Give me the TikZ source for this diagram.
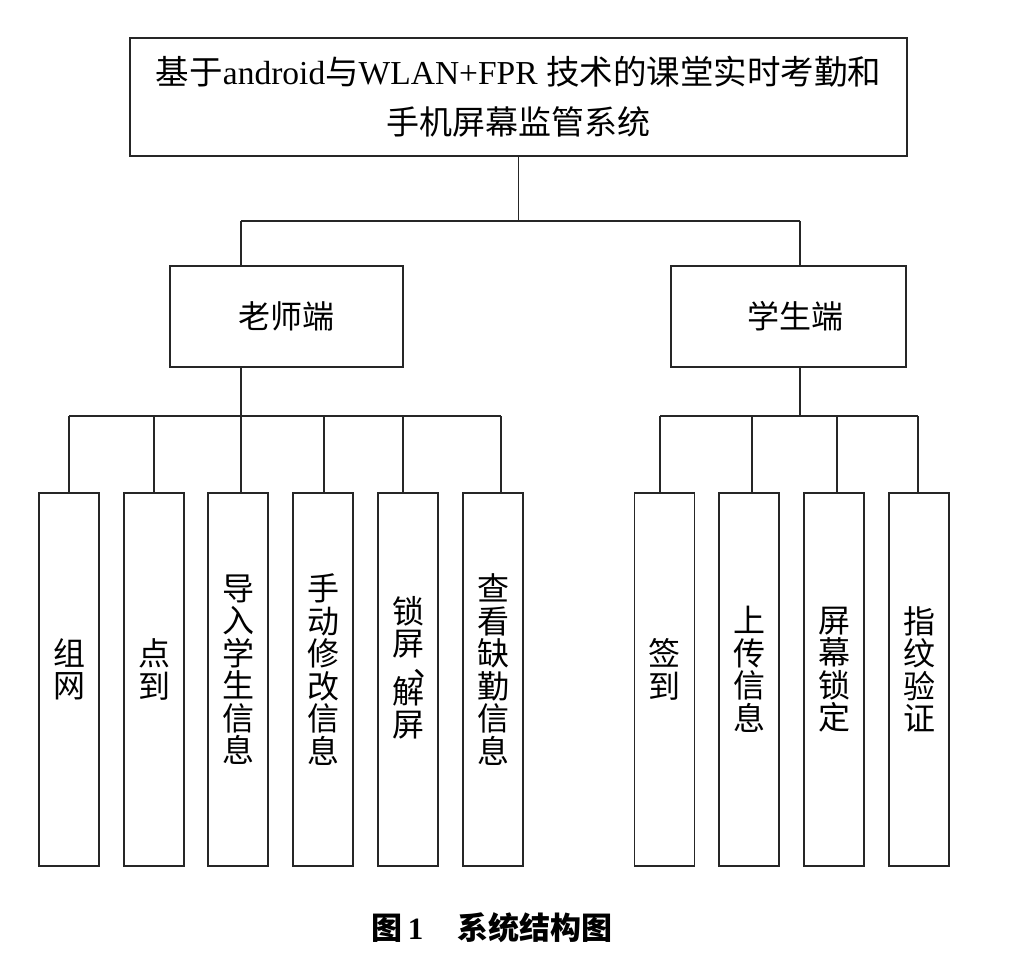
\documentclass[tikz,border=0pt]{standalone}
\usepackage{fontspec}
\setmainfont{Liberation Serif}
\newfontfamily\cjk{Noto Sans CJK SC}
\begin{document}
\begin{tikzpicture}[x=1pt,y=-1pt,
  box/.style={draw=black!85, line width=1.3pt, rectangle, inner sep=0pt},
  leafbox/.style={box, minimum width=60pt, minimum height=373pt},
  conn/.style={draw=black!85, line width=1.3pt},
  leaftxt/.style={font={\cjk\fontsize{32}{32.5}\selectfont}, align=center, inner sep=0pt},
]
\useasboundingbox (0,0) rectangle (1028,965);
\fill[white] (0,0) rectangle (1028,965);

% top
\node[box, minimum width=777pt, minimum height=118pt, align=center,
  font={\fontsize{33.5}{50}\selectfont}] (top) at (518.5,97)
  {{\cjk 基于}android{\cjk 与}WLAN+FPR {\cjk 技术的课堂实时考勤和}\\{\fontsize{33}{50}\selectfont\cjk 手机屏幕监管系统}};

% second level
\node[box, minimum width=233pt, minimum height=101pt, font={\cjk\fontsize{32}{32}\selectfont}] (teacher) at (286.5,316.5) {老师端};
\node[box, minimum width=235pt, minimum height=101pt, font={\cjk\fontsize{32}{32}\selectfont}] (student) at (788.5,316.5) {\hspace*{13pt}学生端};

% teacher leaves
\node[leafbox] (l1) at (69,679.5) {};
\node[leafbox] (l2) at (154,679.5) {};
\node[leafbox] (l3) at (238,679.5) {};
\node[leafbox] (l4) at (323,679.5) {};
\node[leafbox] (l5) at (408,679.5) {};
\node[leafbox] (l6) at (493,679.5) {};
\node[leaftxt] (l1t) at ([yshift=10pt]l1.center) {组\\网};
\node[leaftxt] (l2t) at ([yshift=10pt]l2.center) {点\\到};
\node[leaftxt] (l3t) at ([yshift=10pt]l3.center) {导\\入\\学\\生\\信\\息};
\node[leaftxt] (l4t) at ([yshift=10pt]l4.center) {手\\动\\修\\改\\信\\息};
\node[leaftxt] (l5t) at ([yshift=12pt]l5.center) {锁\\屏\\[-12pt]\hspace*{42pt}、\\[-5pt]解\\屏};
\node[leaftxt] (l6t) at ([yshift=10pt]l6.center) {查\\看\\缺\\勤\\信\\息};

% student leaves
\node[leafbox] (s1) at (664.5,679.5) {};
\node[leafbox] (s2) at (749,679.5) {};
\node[leafbox] (s3) at (834,679.5) {};
\node[leafbox] (s4) at (919,679.5) {};
\node[leaftxt] (s1t) at ([yshift=10pt]s1.center) {签\\到};
\node[leaftxt] (s2t) at ([yshift=10pt]s2.center) {上\\传\\信\\息};
\node[leaftxt] (s3t) at ([yshift=10pt]s3.center) {屏\\幕\\锁\\定};
\node[leaftxt] (s4t) at ([yshift=10pt]s4.center) {指\\纹\\验\\证};

% connectors level 1
\coordinate (hub) at (518.5,221);
\coordinate (tj) at (241,221);
\coordinate (sj) at (800,221);
\draw[conn] (top.south) -- (hub);
\draw[conn] (tj) -- (sj);
\draw[conn] (tj) -- (tj |- teacher.north);
\draw[conn] (sj) -- (sj |- student.north);

% teacher bus
\coordinate (tb) at (241,416);
\coordinate (d1) at (69,416);
\coordinate (d2) at (154,416);
\coordinate (d3) at (241,416);
\coordinate (d4) at (324,416);
\coordinate (d5) at (403,416);
\coordinate (d6) at (501,416);
\draw[conn] (tb |- teacher.south) -- (tb);
\draw[conn] (d1) -- (d6);
\draw[conn] (d1) -- (d1 |- l1.north);
\draw[conn] (d2) -- (d2 |- l2.north);
\draw[conn] (d3) -- (d3 |- l3.north);
\draw[conn] (d4) -- (d4 |- l4.north);
\draw[conn] (d5) -- (d5 |- l5.north);
\draw[conn] (d6) -- (d6 |- l6.north);

% student bus
\coordinate (sb) at (800,416);
\coordinate (e1) at (660,416);
\coordinate (e2) at (752,416);
\coordinate (e3) at (837,416);
\coordinate (e4) at (918,416);
\draw[conn] (sb |- student.south) -- (sb);
\draw[conn] (e1) -- (e4);
\draw[conn] (e1) -- (e1 |- s1.north);
\draw[conn] (e2) -- (e2 |- s2.north);
\draw[conn] (e3) -- (e3 |- s3.north);
\draw[conn] (e4) -- (e4 |- s4.north);

% caption
\node[inner sep=0pt, font={\fontsize{31}{31}\selectfont\bfseries}] (cap) at (492,928)
  {{\cjk 图}\,1\hspace{34pt}{\cjk 系统结构图}};
\end{tikzpicture}
\end{document}
